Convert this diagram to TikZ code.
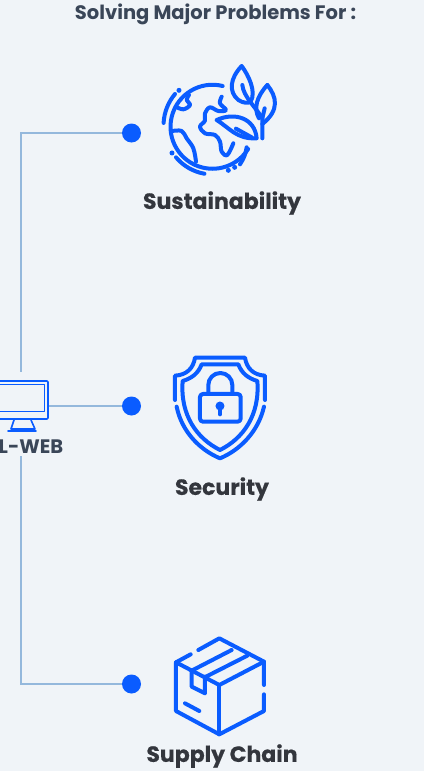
\documentclass[tikz,border=0pt]{standalone}
\usepackage{fontspec}
\setmainfont{Poppins}
\usetikzlibrary{positioning}
\definecolor{pagebg}{HTML}{F0F4F8}
\definecolor{iconblue}{HTML}{0A5CFF}
\definecolor{wire}{HTML}{94B8DC}
\definecolor{darktext}{HTML}{33363D}
\definecolor{slatetext}{HTML}{3A4658}
\begin{document}
\begin{tikzpicture}[x=1pt,y=-1pt]
\tikzstyle{icon}=[draw=iconblue,line width=4pt,line cap=round,line join=round]
\tikzstyle{thinicon}=[draw=iconblue,line width=1.6pt,line cap=round,line join=round]
\tikzstyle{dot}=[circle,fill=iconblue,minimum size=19pt,inner sep=0pt]
\tikzstyle{speck}=[circle,fill=iconblue,minimum size=5pt,inner sep=0pt]
\tikzstyle{wireline}=[draw=wire,line width=2pt]
\tikzstyle{caption}=[font=\bfseries\fontsize{22pt}{24pt}\selectfont\addfontfeature{FakeBold=0.4},text=darktext]
\tikzstyle{smallcaption}=[font=\bfseries\fontsize{19.5pt}{22pt}\selectfont,text=slatetext]
\useasboundingbox (0,0) rectangle (424,771);
\clip (0,0) rectangle (424,771);
\fill[pagebg] (0,0) rectangle (424,771);
\node[smallcaption] (title) at(215.5, 14.5) {Solving Major Problems For :};
% dots and labels
\node[dot] (sustdot) at(131.5, 133) {};
\node[dot] (secdot) at(131.5, 406) {};
\node[dot] (supdot) at(131.5, 684) {};
\node[caption] (sust) at(222, 203) {Sustainability};
\node[caption] (sec) at(222, 489) {Security};
\node[caption] (sup) at(222, 756) {Supply Chain};
\node[smallcaption] (lweb) at(31, 447) {L-WEB};
% monitor
\node[thinicon,draw,rectangle,rounded corners=1pt,minimum width=54pt,minimum height=38pt,inner sep=0pt] (screen) at(21, 400) {};
\node[thinicon,draw,rectangle,minimum width=48pt,minimum height=27pt,inner sep=0pt] (panel) at(20.5, 398) {};
\draw[thinicon] (14, 420) -- (11, 429) -- (35, 429) -- (31, 420);
\draw[thinicon] (8, 431) -- (36, 431);
% connectors
\coordinate (topcorner) at(21, 133);
\coordinate (botcorner) at(21, 684);
\coordinate (topend) at(21, 372);
\coordinate (botend) at(21, 456);
\coordinate (screenport) at(49, 406);
\draw[wireline] (sustdot) -- (topcorner) -- (topend);
\draw[wireline] (screenport) -- (secdot);
\draw[wireline] (supdot) -- (botcorner) -- (botend);
% globe
\begin{scope}[shift={(140, 50)},x=0.3333pt,y=-0.3333pt]
\draw[icon] (248, 108) arc[start angle=76,end angle=328,radius=42pt];
\draw[icon] (105, 132) arc[start angle=140,end angle=177,radius=49pt];
\draw[icon] (108, 322) arc[start angle=220,end angle=260,radius=48pt];
\draw[icon] (300, 343) to[bend right=12] (320, 292);
\node[speck] (speck1) at(117, 121) {};
\node[speck] (speck2) at(96, 309) {};
\node[speck] (speck3) at(265, 361) {};
\node[speck] (speck4) at(284, 352) {};
\draw[icon] plot[smooth,tension=.6] coordinates {(147, 135) (140, 150) (150, 165) (130, 178) (107, 170)};
\draw[icon] plot[smooth,tension=.6] coordinates {(97, 243) (125, 243) (140, 265) (160, 295) (168, 335)};
\draw[icon] plot[smooth,tension=.6] coordinates {(245, 140) (240, 160) (258, 180) (235, 183) (210, 172) (195, 190) (195, 212) (180, 230) (195, 250) (225, 255) (240, 275) (245, 305) (262, 315) (280, 280)};
\draw[icon] (230, 210) .. controls (285, 185) and (345, 205) .. (350, 265) .. controls (290, 268) and (270, 235) .. (230, 210);
\draw[icon] (288, 236) -- (335, 262);
\draw[icon] (305, 48) .. controls (270, 85) and (265, 125) .. (295, 150) .. controls (310, 160) and (325, 160) .. (332, 155) .. controls (350, 125) and (325, 75) .. (305, 48);
\draw[icon] (307, 105) .. controls (310, 140) and (350, 175) .. (367, 205) -- (367, 265);
\draw[icon] (382, 105) .. controls (350, 140) and (340, 175) .. (357, 205);
\draw[icon] (382, 105) .. controls (410, 140) and (420, 180) .. (367, 222);
\draw[icon] (374, 175) -- (367, 205);
\end{scope}
% shield
\begin{scope}[shift={(150, 345)},x=0.3333pt,y=-0.3333pt]
\draw[icon] (75, 165) -- (75, 92) .. controls (110, 90) and (130, 70) .. (135, 38) -- (285, 38) .. controls (290, 70) and (310, 90) .. (345, 92) -- (345, 165);
\draw[icon] (80, 185) .. controls (95, 260) and (150, 315) .. (210, 340) .. controls (270, 315) and (325, 260) .. (342, 185);
\draw[icon] (155, 58) -- (265, 58) .. controls (275, 85) and (295, 100) .. (322, 108) .. controls (330, 210) and (280, 280) .. (210, 315) .. controls (140, 280) and (90, 210) .. (98, 108) .. controls (125, 100) and (145, 85) .. (155, 58) -- cycle;
\draw[icon,rounded corners=3pt] (150, 147) rectangle (272, 230);
\draw[icon] (175, 147) -- (175, 120) arc[start angle=180,end angle=0,radius=12pt] -- (247, 147);
\node[circle,fill=iconblue,minimum size=9pt,inner sep=0pt] (keyhole) at(210, 183) {};
\draw[icon] (keyhole) -- (210, 208);
\end{scope}
% box
\begin{scope}[shift={(150, 625)},x=0.3333pt,y=-0.3333pt]
\draw[icon] (145, 75) -- (208, 40) -- (342, 110) -- (342, 180);
\draw[icon] (342, 208) -- (342, 258) -- (208, 328) -- (78, 258) -- (78, 112) -- (122, 88);
\draw[icon] (78, 112) -- (208, 180) -- (342, 110);
\draw[icon] (208, 180) -- (208, 328);
\draw[icon] (125, 137) -- (245, 75);
\draw[icon] (168, 155) -- (292, 92);
\draw[icon] (125, 137) -- (125, 185) -- (165, 205) -- (165, 155);
\draw[icon] (105, 235) -- (148, 258);
\end{scope}
\end{tikzpicture}
\end{document}
